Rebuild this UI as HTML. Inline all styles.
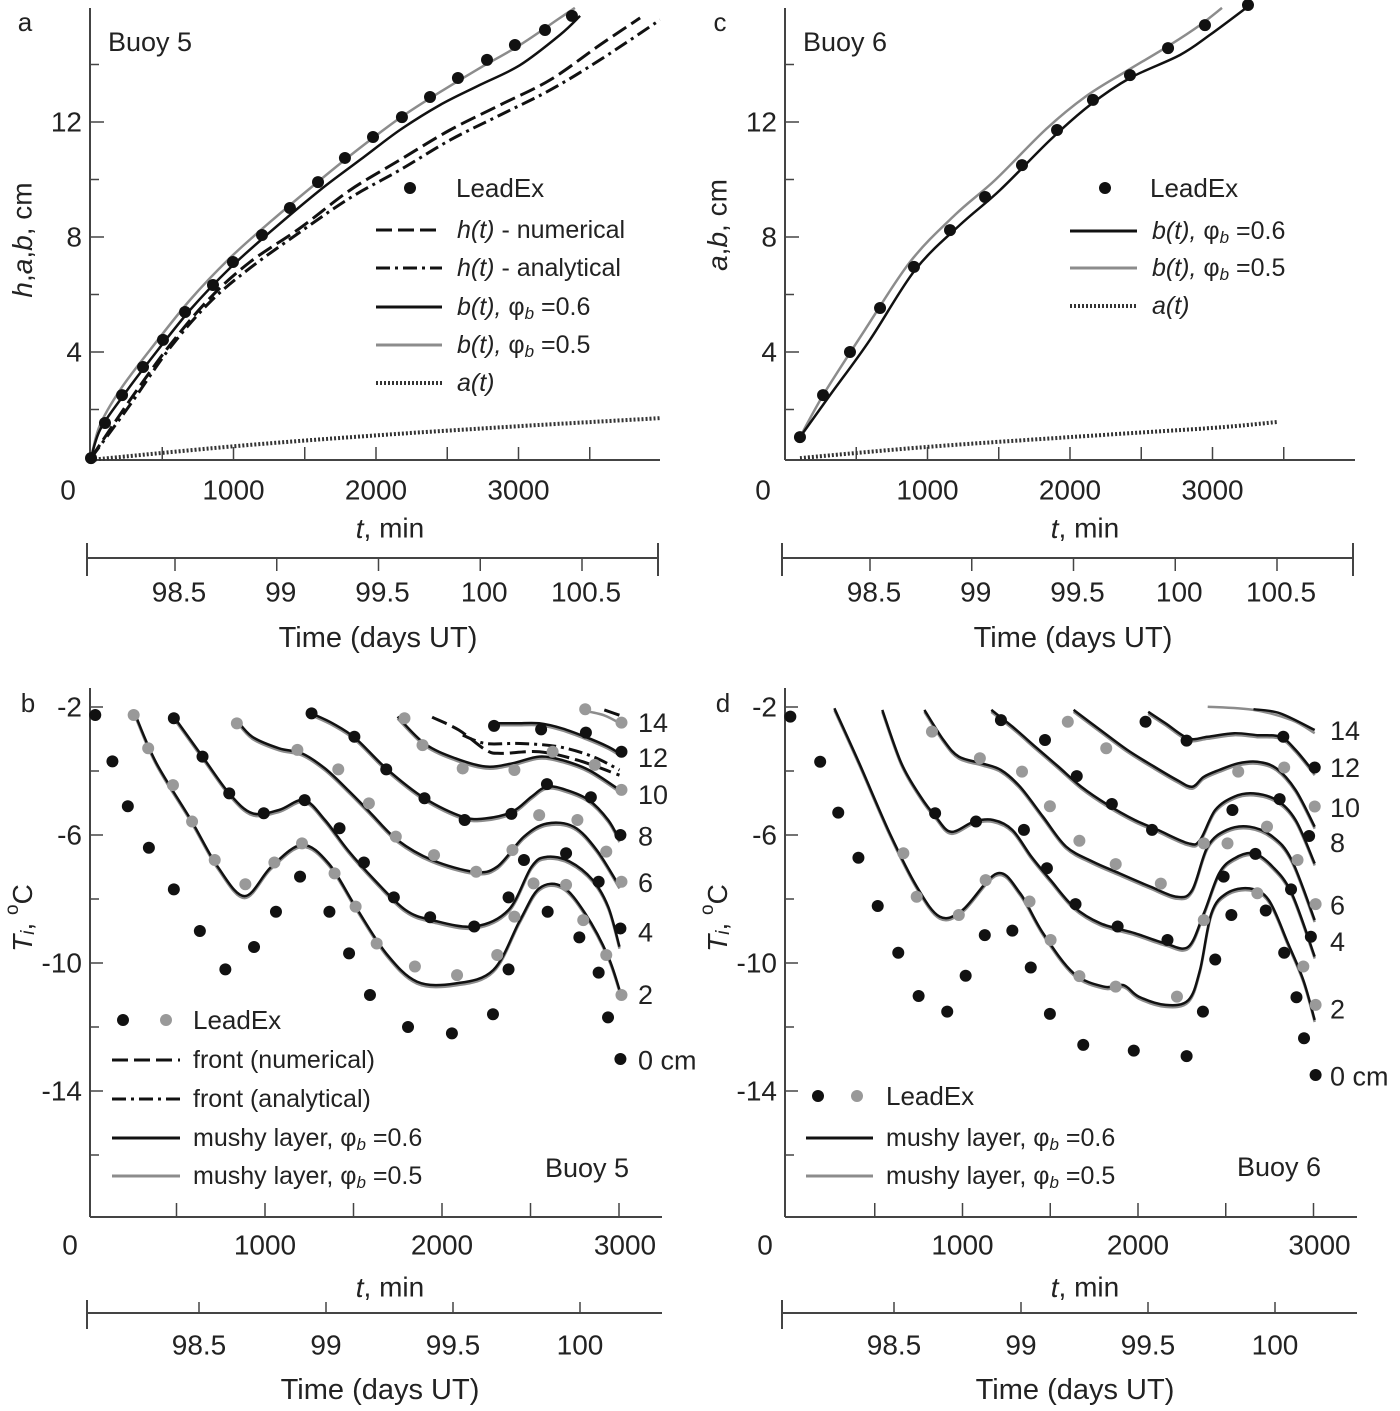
<!DOCTYPE html>
<html><head><meta charset="utf-8"><style>
html,body{margin:0;padding:0;background:#fff;}
svg{display:block;font-family:"Liberation Sans",sans-serif;}
</style></head><body>
<svg id="fig" width="1400" height="1411" viewBox="0 0 1400 1411" xmlns="http://www.w3.org/2000/svg"></svg>
<script>
// ---------- Panel a (Buoy 5 growth) ----------
const a_lead = [[0,0.31],[98,1.53],[218,2.5],[365,3.48],[505,4.42],[660,5.39],[856,6.33],[996,7.13],[1200,8.07],[1396,9.01],[1593,9.91],[1782,10.75],[1979,11.48],[2182,12.17],[2379,12.87],[2575,13.53],[2779,14.16],[2975,14.68],[3186,15.2],[3375,15.69]];
const a_b06 = [[0,0.31],[63,1.29],[204,2.33],[414,3.72],[695,5.46],[975,6.92],[1256,8.17],[1607,9.63],[1888,10.68],[2168,11.72],[2449,12.59],[2730,13.29],[3011,13.98],[3291,15.03],[3432,15.69]];
const a_b05 = [[0,0.31],[63,1.46],[204,2.68],[414,4.07],[695,5.81],[975,7.27],[1256,8.52],[1607,9.98],[1888,11.1],[2168,12.14],[2449,13.04],[2730,13.88],[3011,14.68],[3291,15.62],[3396,15.97]];
const a_hnum = [[0,0.31],[274,2.33],[554,4.24],[835,5.88],[1116,7.13],[1467,8.31],[1818,9.63],[2168,10.68],[2519,11.72],[2870,12.59],[3221,13.46],[3572,14.68],[3853,15.62]];
const a_hana = [[0,0.31],[274,2.16],[554,4.14],[835,5.74],[1116,6.92],[1467,8.17],[1818,9.36],[2168,10.33],[2519,11.37],[2870,12.24],[3221,13.11],[3572,14.16],[3993,15.55]];
const a_at = [[0,0.25],[1000,0.72],[2000,1.1],[3000,1.42],[4000,1.7]];
// ---------- Panel c (Buoy 6 growth) ----------
const c_lead = [[105,1.04],[267,2.5],[456,4.0],[667,5.53],[905,6.96],[1158,8.24],[1404,9.39],[1663,10.5],[1909,11.72],[2161,12.77],[2421,13.63],[2688,14.57],[2947,15.37],[3249,16.07]];
const c_b06 = [[105,1.04],[316,2.5],[596,4.42],[912,6.85],[1228,8.42],[1509,9.63],[1860,11.37],[2140,12.59],[2421,13.53],[2772,14.33],[2982,15.03],[3263,16.07]];
const c_b05 = [[105,1.04],[281,2.61],[561,4.77],[877,7.13],[1193,8.77],[1474,9.98],[1825,11.72],[2105,12.87],[2386,13.74],[2702,14.68],[2912,15.37],[3067,15.97]];
const c_at = [[105,0.31],[1000,0.7],[2000,1.04],[3000,1.36],[3460,1.57]];
// ---------- Panel b (Buoy 5 temperatures) ----------
const b_dots0 = [[41,-2.25],[138,-3.7],[225,-5.1],[344,-6.4],[485,-7.7],[632,-9.0],[776,-10.2],[938,-9.5],[1062,-8.4],[1198,-7.3],[1364,-8.4],[1475,-9.7],[1593,-11.0],[1808,-12.0],[2056,-12.2],[2288,-11.6],[2376,-10.2],[2597,-8.4],[2776,-9.2],[2885,-10.3],[2938,-11.7],[3008,-13.0]];
const b_dots2 = [[258,-2.25],[340,-3.29],[480,-4.44],[588,-5.58],[716,-6.78],[889,-7.54],[1053,-6.86],[1209,-6.26],[1393,-7.2],[1512,-8.24],[1631,-9.39],[1847,-10.11],[2085,-10.38],[2312,-9.75],[2409,-8.55],[2517,-7.51],[2701,-7.56],[2798,-8.66],[2928,-9.75],[3014,-11.0]];
const b_dots4 = [[485,-2.35],[647,-3.55],[798,-4.7],[993,-5.32],[1224,-4.91],[1421,-5.79],[1559,-6.86],[1728,-7.95],[1933,-8.57],[2182,-8.86],[2376,-7.95],[2463,-6.78],[2701,-6.57],[2885,-7.46],[3008,-8.92]];
const b_dots6 = [[841,-2.51],[1183,-3.34],[1414,-3.95],[1587,-5.01],[1739,-6.05],[1955,-6.63],[2193,-7.15],[2398,-6.47],[2549,-5.38],[2765,-5.53],[2928,-6.52],[3014,-7.46]];
const b_dots8 = [[1263,-2.2],[1505,-2.93],[1685,-3.95],[1901,-4.85],[2128,-5.53],[2392,-5.34],[2593,-4.41],[2841,-4.82],[3008,-6.0]];
const b_dots10 = [[1788,-2.35],[1890,-3.19],[2117,-3.92],[2409,-3.97],[2625,-3.4],[2863,-3.81],[3014,-4.59]];
const b_dots12 = [[2294,-2.59],[2560,-2.7],[2813,-2.8],[3014,-3.4]];
const b_dots14 = [[2809,-2.07],[3014,-2.49]];
const b_line2 = [[268,-2.25],[387,-3.76],[582,-5.53],[733,-6.99],[885,-7.91],[1036,-6.99],[1209,-6.31],[1360,-6.89],[1512,-8.24],[1685,-9.7],[1858,-10.58],[2074,-10.64],[2290,-10.22],[2441,-8.66],[2549,-7.67],[2679,-7.61],[2809,-8.45],[2939,-9.8],[3014,-11.05]];
const b_line4 = [[485,-2.3],[647,-3.55],[798,-4.7],[928,-5.32],[1079,-5.22],[1220,-4.91],[1339,-5.53],[1468,-6.47],[1620,-7.41],[1793,-8.34],[1944,-8.66],[2182,-8.86],[2376,-8.34],[2506,-6.99],[2593,-6.68],[2722,-6.83],[2852,-7.41],[2939,-8.24],[3003,-9.49]];
const b_line6 = [[841,-2.41],[928,-2.93],[1079,-3.29],[1209,-3.45],[1339,-3.92],[1468,-4.59],[1598,-5.32],[1749,-6.16],[1944,-6.78],[2182,-7.15],[2312,-6.99],[2463,-6.05],[2593,-5.64],[2744,-5.74],[2874,-6.47],[3003,-7.61]];
const b_line8 = [[1263,-2.2],[1382,-2.51],[1512,-2.98],[1685,-3.92],[1901,-4.85],[2117,-5.43],[2247,-5.48],[2398,-5.27],[2506,-4.8],[2593,-4.49],[2701,-4.59],[2830,-4.91],[2939,-5.53],[3003,-6.16]];
const b_line10 = [[1749,-2.3],[1901,-3.14],[2074,-3.6],[2247,-3.86],[2398,-3.76],[2549,-3.55],[2679,-3.66],[2830,-3.97],[3003,-4.59]];
const b_line12 = [[2290,-2.51],[2420,-2.51],[2549,-2.51],[2679,-2.67],[2809,-2.93],[2939,-3.24],[3003,-3.45]];
const b_line14 = [[2787,-2.04],[2917,-2.2],[3025,-2.51]];
const b_front_num = [[1944,-2.32],[2095,-2.72],[2247,-3.34],[2333,-3.45],[2549,-3.4],[2765,-3.66],[3003,-4.13]];
const b_front_num14 = [[2917,-2.09],[3025,-2.3]];
const b_front_ana = [[2117,-2.88],[2247,-3.14],[2441,-3.14],[2657,-3.24],[2852,-3.55],[3003,-3.97]];
// ---------- Panel d (Buoy 6 temperatures) ----------
const d_dots0 = [[19,-2.3],[189,-3.71],[292,-5.3],[407,-6.71],[517,-8.22],[634,-9.68],[750,-11.03],[913,-11.52],[1018,-10.4],[1127,-9.13],[1284,-8.99],[1389,-10.14],[1498,-11.59],[1688,-12.56],[1976,-12.74],[2277,-12.91],[2370,-11.52],[2440,-9.89],[2532,-8.5],[2728,-8.36],[2833,-9.68],[2903,-11.07],[2946,-12.35],[3012,-13.5]];
const d_dots2 = [[663,-6.57],[739,-7.93],[979,-8.5],[1132,-7.41],[1382,-8.08],[1502,-9.28],[1666,-10.41],[1873,-10.74],[2222,-11.05],[2375,-8.66],[2680,-7.82],[2942,-10.11],[3012,-11.31]];
const d_dots4 = [[844,-5.32],[1077,-5.58],[1350,-5.84],[1481,-7.04],[1644,-8.16],[1884,-8.86],[2168,-9.28],[2488,-7.3],[2669,-6.59],[2872,-7.7],[2985,-9.18]];
const d_dots6 = [[826,-2.77],[1099,-3.6],[1339,-4.02],[1498,-5.1],[1666,-6.18],[1873,-6.91],[2130,-7.52],[2375,-6.26],[2510,-6.26],[2735,-5.74],[2909,-6.78],[3012,-8.16]];
const d_dots8 = [[1219,-2.41],[1470,-3.03],[1651,-4.16],[1851,-5.03],[2080,-5.84],[2538,-5.22],[2807,-4.88],[2975,-6.03]];
const d_dots10 = [[1600,-2.46],[1819,-3.29],[2571,-4.02],[2833,-3.89],[3007,-5.11]];
const d_dots12 = [[2043,-2.46],[2277,-3.05],[2828,-2.93],[3007,-3.89]];
const d_line2 = [[270,-2.04],[412,-3.76],[586,-5.95],[739,-7.61],[870,-8.55],[1001,-8.34],[1197,-7.2],[1328,-7.82],[1459,-9.07],[1633,-10.32],[1808,-10.74],[1917,-10.69],[2004,-11.05],[2157,-11.31],[2287,-11.16],[2353,-10.22],[2418,-8.45],[2506,-7.82],[2636,-7.67],[2745,-8.03],[2855,-9.39],[2942,-10.53],[3007,-11.78]];
const d_line4 = [[543,-2.09],[652,-3.76],[761,-4.8],[848,-5.43],[935,-5.9],[1066,-5.58],[1175,-5.53],[1284,-5.84],[1393,-6.68],[1502,-7.41],[1633,-8.24],[1786,-8.76],[1982,-9.07],[2157,-9.39],[2287,-9.49],[2375,-8.45],[2462,-7.2],[2549,-6.73],[2659,-6.57],[2767,-6.99],[2876,-7.82],[3007,-9.8]];
const d_line6 = [[783,-2.09],[892,-3.03],[979,-3.55],[1110,-3.76],[1219,-3.97],[1328,-4.49],[1459,-5.43],[1590,-6.36],[1742,-6.83],[1895,-7.2],[2069,-7.61],[2222,-7.93],[2309,-7.72],[2397,-6.36],[2506,-5.84],[2636,-5.74],[2767,-6.05],[2876,-6.78],[3007,-8.66]];
const d_line8 = [[1164,-2.09],[1284,-2.61],[1415,-3.24],[1546,-3.86],[1677,-4.49],[1829,-5.06],[1982,-5.53],[2113,-5.84],[2287,-6.26],[2353,-6.16],[2440,-5.22],[2549,-4.8],[2659,-4.7],[2789,-4.91],[2898,-5.53],[3007,-6.89]];
const d_line10 = [[1633,-2.09],[1786,-2.72],[1939,-3.34],[2091,-3.86],[2222,-4.28],[2309,-4.49],[2375,-4.18],[2462,-3.97],[2571,-3.76],[2680,-3.71],[2789,-3.92],[2898,-4.59],[3007,-5.74]];
const d_line12 = [[2058,-2.15],[2157,-2.51],[2287,-2.98],[2397,-2.93],[2549,-2.82],[2680,-2.88],[2811,-2.93],[2898,-3.34],[3007,-4.07]];
const d_line14g = [[2397,-1.99],[2658,-2.09],[2876,-2.41],[3007,-2.82]];
const d_line14 = [[2658,-2.07],[2811,-2.2],[3007,-2.72]];
// tick labels
const abTicksY = ['4','8','12'];
const abTicksYv = [4,8,12];
const tTicks = [1000,2000,3000];
const dayA = ['98.5','99','99.5','100','100.5'];
const dayAv = [98.5,99,99.5,100,100.5];
const dayB = ['98.5','99','99.5','100'];
const dayBv = [98.5,99,99.5,100];
const TTicks = [-2,-6,-10,-14];
const depthB = ['14','12','10','8','6','4','2','0 cm'];
const depthBy = [-2.5,-3.6,-4.75,-6.05,-7.5,-9.05,-11.0,-13.05];
const depthD = ['14','12','10','8','6','4','2','0 cm'];
const depthDy = [-2.75,-3.9,-5.15,-6.25,-8.2,-9.35,-11.45,-13.55];

const NS='http://www.w3.org/2000/svg';
const svg=document.getElementById('fig');
const BLK='#111', GRY='#8c8c8c', AX='#444';
function mk(tag,attrs,parent){const e=document.createElementNS(NS,tag);for(const k in attrs)e.setAttribute(k,attrs[k]);(parent||svg).appendChild(e);return e;}
function grp(name){const g=mk('g',{});return g;}
function txt(g,x,y,s,size,anchor,extra){const t=mk('text',Object.assign({x:x,y:y,'font-size':size,'text-anchor':anchor||'start',fill:'#222','dominant-baseline':'central'},extra||{}),g);t.textContent=s;return t;}
function smooth(p){let d='M'+p[0][0].toFixed(1)+','+p[0][1].toFixed(1);const n=p.length;
 for(let i=0;i<n-1;i++){const p0=p[Math.max(i-1,0)],p1=p[i],p2=p[i+1],p3=p[Math.min(i+2,n-1)];
  d+=' C'+(p1[0]+(p2[0]-p0[0])/6).toFixed(1)+','+(p1[1]+(p2[1]-p0[1])/6).toFixed(1)+' '+(p2[0]-(p3[0]-p1[0])/6).toFixed(1)+','+(p2[1]-(p3[1]-p1[1])/6).toFixed(1)+' '+p2[0].toFixed(1)+','+p2[1].toFixed(1);}
 return d;}
function line(g,data,fx,fy,stroke,w,dash,dy){const pts=data.map(d=>[fx(d[0]),fy(d[1])+(dy||0)]);
 const p=mk('path',{d:smooth(pts),fill:'none',stroke:stroke,'stroke-width':w,'stroke-linecap':'butt'},g);if(dash)p.setAttribute('stroke-dasharray',dash);return p;}
function dots(g,data,fx,fy,fill,r){data.forEach(d=>{const c=mk('circle',{cx:fx(d[0]),cy:fy(d[1]),r:r||6,fill:fill},g);
 
 });}

// axis frames
function growthAxes(name,x0,fx,fy,letter,buoy){
 const g=grp(name);
 mk('line',{x1:x0,y1:8,x2:x0,y2:460,stroke:AX,'stroke-width':2},g);
 mk('line',{x1:x0,y1:460,x2:x0+570,y2:460,stroke:AX,'stroke-width':2},g);
 for(let v=2;v<=14;v+=2){mk('line',{x1:x0,y1:fy(v),x2:x0+(v%4==0?14:9),y2:fy(v),stroke:AX,'stroke-width':1.5},g);}
 for(let t=500;t<=3500;t+=500){mk('line',{x1:fx(t),y1:460,x2:fx(t),y2:447,stroke:AX,'stroke-width':1.5},g);}
 abTicksY.forEach((s,i)=>txt(g,x0-8,fy(abTicksYv[i]),s,28,'end'));
 txt(g,x0-22,490,'0',28,'middle');
 tTicks.forEach(t=>txt(g,fx(t),490,String(t),28,'middle'));
 const tl=txt(g,x0+300,528,'',28,'middle');tl.innerHTML='<tspan font-style="italic">t</tspan>,  min';
 // day axis
 const ly=558;
 mk('line',{x1:x0-3,y1:ly,x2:x0+568,y2:ly,stroke:AX,'stroke-width':2},g);
 mk('line',{x1:x0-3,y1:ly-15,x2:x0-3,y2:ly+18,stroke:AX,'stroke-width':2},g);
 mk('line',{x1:x0+568,y1:ly-15,x2:x0+568,y2:ly+18,stroke:AX,'stroke-width':2},g);
 dayAv.forEach((d,i)=>{const x=x0+85+(d-98.5)*203.5;mk('line',{x1:x,y1:ly,x2:x,y2:ly+13,stroke:AX,'stroke-width':1.5},g);txt(g,x+4,592,dayA[i],28,'middle');});
 txt(g,x0+288,638,'Time (days UT)',29,'middle');
 txt(g,x0-65,22,letter,26,'middle');
 txt(g,x0+18,42,buoy,27,'start');
 return g;}
function tempAxes(name,x0,fx,fy,letter){
 const g=grp(name);
 mk('line',{x1:x0,y1:688,x2:x0,y2:1217,stroke:AX,'stroke-width':2},g);
 mk('line',{x1:x0,y1:1217,x2:x0+572,y2:1217,stroke:AX,'stroke-width':2},g);
 for(let v=-2;v>=-16;v-=2){mk('line',{x1:x0,y1:fy(v),x2:x0+(v%4==0?9:13),y2:fy(v),stroke:AX,'stroke-width':1.5},g);}
 for(let t=500;t<=3000;t+=500){mk('line',{x1:fx(t),y1:1217,x2:fx(t),y2:1203,stroke:AX,'stroke-width':1.5},g);}
 TTicks.forEach(v=>txt(g,x0-8,fy(v),String(v),28,'end'));
 txt(g,x0-20,1245,'0',28,'middle');
 tTicks.forEach(t=>txt(g,fx(t)+(t==3000?6:0),1245,String(t),28,'middle'));
 const tl=txt(g,x0+300,1287,'',28,'middle');tl.innerHTML='<tspan font-style="italic">t</tspan>,  min';
 const ly=1313;
 mk('line',{x1:x0-3,y1:ly,x2:x0+572,y2:ly,stroke:AX,'stroke-width':2},g);
 mk('line',{x1:x0-3,y1:ly-13,x2:x0-3,y2:ly+16,stroke:AX,'stroke-width':2},g);
 dayBv.forEach((d,i)=>{const x=x0+109+(d-98.5)*254;mk('line',{x1:x,y1:ly,x2:x,y2:ly-11,stroke:AX,'stroke-width':1.5},g);txt(g,x,1345,dayB[i],28,'middle');});
 txt(g,x0+290,1390,'Time (days UT)',29,'middle');
 txt(g,x0-62,703,letter,26,'middle');
 const yl=txt(g,0,0,'',28,'middle',{transform:'translate('+(x0-68)+',918) rotate(-90)'});
 yl.innerHTML='<tspan font-style="italic">T</tspan><tspan font-style="italic" font-size="19" dy="6">i</tspan><tspan dy="-6">, </tspan><tspan font-size="19" dy="-10">o</tspan><tspan dy="10">C</tspan>';
 return g;}

// scales
const xa=t=>91+0.1425*t, ya=h=>467-28.75*h;
const xc=t=>785+0.1425*t;
const xb=t=>88+0.177*t, yb=T=>707-(T+2)*32;
const xd=t=>787+0.1755*t;

// ===== Panel a =====
const ga=growthAxes('panel-a-axes',90,xa,ya,'a','Buoy 5');
const yla=txt(ga,0,0,'',28,'middle',{transform:'translate(22,240) rotate(-90)'});
yla.innerHTML='<tspan font-style="italic">h</tspan>,<tspan font-style="italic">a</tspan>,<tspan font-style="italic">b</tspan>, cm';
const sa=grp('panel-a-series');
line(sa,a_at,xa,ya,'#333',4,'2 2');
line(sa,a_hana,xa,ya,BLK,3,'14 5 3 5');
line(sa,a_hnum,xa,ya,BLK,3,'16 6');
line(sa,a_b05,xa,ya,GRY,2.5);
line(sa,a_b06,xa,ya,BLK,2.5);
dots(sa,a_lead,xa,ya,BLK,6);
// legend a
const la=grp('panel-a-legend');
mk('circle',{cx:410,cy:188,r:6,fill:BLK},la);txt(la,456,188,'LeadEx',26);
[[230,'16 6',BLK,3,'<tspan font-style="italic">h(t)</tspan> - numerical'],[268,'14 5 3 5',BLK,3,'<tspan font-style="italic">h(t)</tspan> - analytical'],[307,null,BLK,3,'<tspan font-style="italic">b(t),</tspan>  φ<tspan font-size="17" dy="6" font-style="italic">b</tspan><tspan dy="-6"> =0.6</tspan>'],[345,null,GRY,3,'<tspan font-style="italic">b(t),</tspan>  φ<tspan font-size="17" dy="6" font-style="italic">b</tspan><tspan dy="-6"> =0.5</tspan>'],[383,'2 2','#333',4,'<tspan font-style="italic">a(t)</tspan>']].forEach(r=>{
 const l=mk('line',{x1:376,y1:r[0],x2:442,y2:r[0],stroke:r[2],'stroke-width':r[3]},la);if(r[1])l.setAttribute('stroke-dasharray',r[1]);
 txt(la,457,r[0],'',25).innerHTML=r[4];});

// ===== Panel c =====
const gc=growthAxes('panel-c-axes',785,xc,ya,'c','Buoy 6');
const ylc=txt(gc,0,0,'',28,'middle',{transform:'translate(717,225) rotate(-90)'});
ylc.innerHTML='<tspan font-style="italic">a</tspan>,<tspan font-style="italic">b</tspan>, cm';
const sc=grp('panel-c-series');
line(sc,c_at,xc,ya,'#333',4,'2 2');
line(sc,c_b05,xc,ya,GRY,2.5);
line(sc,c_b06,xc,ya,BLK,2.5);
dots(sc,c_lead,xc,ya,BLK,6);
const lc=grp('panel-c-legend');
mk('circle',{cx:1105,cy:188,r:6,fill:BLK},lc);txt(lc,1150,188,'LeadEx',26);
[[231,null,BLK,3,'<tspan font-style="italic">b(t),</tspan>  φ<tspan font-size="17" dy="6" font-style="italic">b</tspan><tspan dy="-6"> =0.6</tspan>'],[268,null,GRY,3,'<tspan font-style="italic">b(t),</tspan>  φ<tspan font-size="17" dy="6" font-style="italic">b</tspan><tspan dy="-6"> =0.5</tspan>'],[306,'2 2','#333',4,'<tspan font-style="italic">a(t)</tspan>']].forEach(r=>{
 const l=mk('line',{x1:1070,y1:r[0],x2:1137,y2:r[0],stroke:r[2],'stroke-width':r[3]},lc);if(r[1])l.setAttribute('stroke-dasharray',r[1]);
 txt(lc,1152,r[0],'',25).innerHTML=r[4];});

// ===== Panel b =====
const gb=tempAxes('panel-b-axes',90,xb,yb,'b');
const sb=grp('panel-b-series');
[b_line2,b_line4,b_line6,b_line8,b_line10,b_line12,b_line14].forEach(d=>line(sb,d,xb,yb,GRY,2.5,null,2));
[b_line2,b_line4,b_line6,b_line8,b_line10,b_line12].forEach(d=>line(sb,d,xb,yb,BLK,2.5));
line(sb,b_front_num,xb,yb,BLK,3,'16 6');
line(sb,b_front_num14,xb,yb,BLK,3,'16 6');
line(sb,b_front_ana,xb,yb,BLK,3,'14 5 3 5');
[b_dots2,b_dots6,b_dots10,b_dots14].forEach(d=>dots(sb,d,xb,yb,'#999',6));
[b_dots0,b_dots4,b_dots8,b_dots12].forEach(d=>dots(sb,d,xb,yb,BLK,6));
const db=grp('panel-b-depth-labels');
depthB.forEach((s,i)=>txt(db,638,yb(depthBy[i]),s,27,'start'));
const lb=grp('panel-b-legend');
mk('circle',{cx:123,cy:1020,r:6,fill:BLK},lb);mk('circle',{cx:166,cy:1020,r:6,fill:'#999'},lb);txt(lb,193,1020,'LeadEx',26);
[[1060,'16 6',BLK,'front (numerical)'],[1099,'14 5 3 5',BLK,'front (analytical)'],[1138,null,BLK,'mushy layer, φ<tspan font-size="17" dy="6" font-style="italic">b</tspan><tspan dy="-6"> =0.6</tspan>'],[1176,null,GRY,'mushy layer, φ<tspan font-size="17" dy="6" font-style="italic">b</tspan><tspan dy="-6"> =0.5</tspan>']].forEach(r=>{
 const l=mk('line',{x1:112,y1:r[0],x2:180,y2:r[0],stroke:r[2],'stroke-width':3},lb);if(r[1])l.setAttribute('stroke-dasharray',r[1]);
 txt(lb,193,r[0],'',25).innerHTML=r[3];});
txt(lb,545,1168,'Buoy 5',27);

// ===== Panel d =====
const gd=tempAxes('panel-d-axes',785,xd,yb,'d');
const sd=grp('panel-d-series');
[d_line2,d_line4,d_line6,d_line8,d_line10,d_line12].forEach(d=>line(sd,d,xd,yb,GRY,2.5,null,2));
line(sd,d_line14g,xd,yb,GRY,2.5);
[d_line2,d_line4,d_line6,d_line8,d_line10,d_line12,d_line14].forEach(d=>line(sd,d,xd,yb,BLK,2.5));
[d_dots2,d_dots6,d_dots10].forEach(d=>dots(sd,d,xd,yb,'#999',6));
[d_dots0,d_dots4,d_dots8,d_dots12].forEach(d=>dots(sd,d,xd,yb,BLK,6));
const dd=grp('panel-d-depth-labels');
depthD.forEach((s,i)=>txt(dd,1330,yb(depthDy[i]),s,27,'start'));
const ld=grp('panel-d-legend');
mk('circle',{cx:818,cy:1096,r:6,fill:BLK},ld);mk('circle',{cx:857,cy:1096,r:6,fill:'#999'},ld);txt(ld,886,1096,'LeadEx',26);
[[1138,BLK,'mushy layer, φ<tspan font-size="17" dy="6" font-style="italic">b</tspan><tspan dy="-6"> =0.6</tspan>'],[1176,GRY,'mushy layer, φ<tspan font-size="17" dy="6" font-style="italic">b</tspan><tspan dy="-6"> =0.5</tspan>']].forEach(r=>{
 mk('line',{x1:806,y1:r[0],x2:873,y2:r[0],stroke:r[1],'stroke-width':3},ld);
 txt(ld,886,r[0],'',25).innerHTML=r[2];});
txt(ld,1237,1167,'Buoy 6',27);
</script>
</body></html>
